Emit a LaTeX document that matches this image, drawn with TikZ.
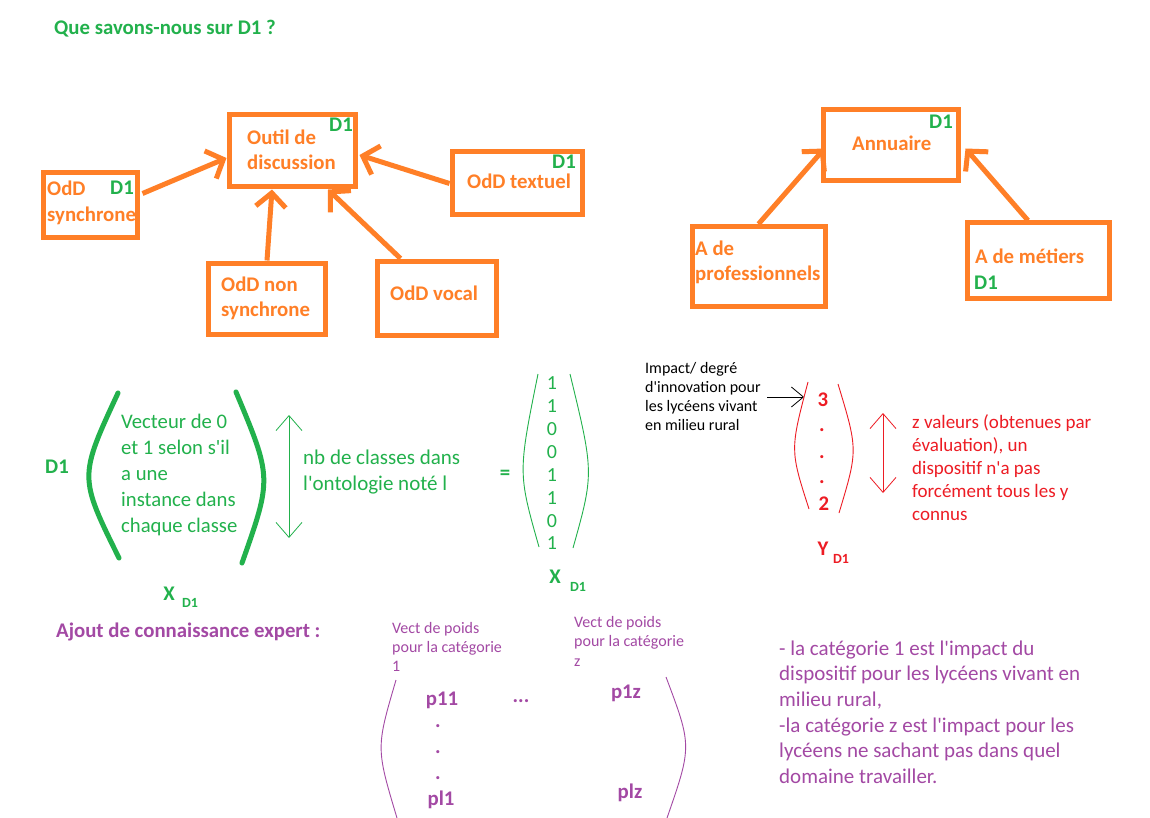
\documentclass[tikz,border=0pt]{standalone}
\usepackage{fontspec}
\setmainfont{Carlito}[Ligatures=TeXOff]
\usetikzlibrary{arrows.meta,calc}
\definecolor{cor}{HTML}{FF7F27}
\definecolor{cgr}{HTML}{22B14C}
\definecolor{cre}{HTML}{ED1C24}
\definecolor{cpu}{HTML}{A349A4}
\newcommand\firstln[1]{\rule{0pt}{#1pt}}
\begin{document}
\begin{tikzpicture}[x=1pt,y=-1pt,
  obox/.style={draw=cor,line width=5pt,inner sep=0pt},
  oarr/.style={draw=cor,line width=5pt,-{Straight Barb[length=14pt,width=30pt]}},
  thinarr/.style={line width=0.8pt,{Straight Barb[length=15pt,width=26pt]}-{Straight Barb[length=15pt,width=26pt]}},
  bt/.style={inner sep=0pt,anchor=base west,font=\bfseries\fontsize{20.8}{25}\selectfont},
  bc/.style={inner sep=0pt,anchor=base,font=\bfseries\fontsize{20.8}{25}\selectfont},
  ml/.style={inner sep=0pt,anchor=north west,align=left},
  sub/.style={inner sep=0pt,font=\bfseries\fontsize{14}{16}\selectfont},
  thinparen/.style={line width=0.9pt}]
\useasboundingbox[fill=white] (0,0) rectangle (1150,818);

% title
\node[bt,text=cgr] (title) at (54,35) {Que savons-nous sur D1 ?};

% ---------- orange boxes ----------
\node[obox,minimum width=126pt,minimum height=72pt] (outil) at (292,151) {};
\node[obox,minimum width=94pt,minimum height=65pt] (syn) at (90,205.5) {};
\node[obox,minimum width=130pt,minimum height=63pt] (textuel) at (517,183.5) {};
\node[obox,minimum width=117pt,minimum height=71pt] (nonsyn) at (267,298.5) {};
\node[obox,minimum width=119pt,minimum height=74pt] (vocal) at (436.5,298) {};
\node[obox,minimum width=135pt,minimum height=71pt] (annu) at (890.5,145.5) {};
\node[obox,minimum width=133pt,minimum height=80pt] (prof) at (758.5,266.5) {};
\node[obox,minimum width=142pt,minimum height=75pt] (metier) at (1038,260.5) {};

\node[ml,text=cor,font=\bfseries\fontsize{20.8}{25.5}\selectfont] (outilt) at (247,129) {\firstln{15}Outil de\\discussion};
\node[bt,text=cgr] (outild) at (329,132) {D1};
\node[ml,text=cor,font=\bfseries\fontsize{20.8}{26}\selectfont] (synt) at (47,180) {\firstln{15}OdD\\synchrone};
\node[bt,text=cgr] (synd) at (110,195) {D1};
\node[bt,text=cgr] (textueld) at (552,169) {D1};
\node[bt,text=cor] (textuelt) at (467,189) {OdD textuel};
\node[ml,text=cor,font=\bfseries\fontsize{20.8}{25.5}\selectfont] (nonsynt) at (221,276) {\firstln{15}OdD non\\synchrone};
\node[bt,text=cor] (vocalt) at (390,300) {OdD vocal};
\node[bt,text=cor] (annut) at (852,151) {Annuaire};
\node[bt,text=cgr] (annud) at (929,129) {D1};
\node[ml,text=cor,font=\bfseries\fontsize{20.8}{25}\selectfont] (proft) at (695,240) {\firstln{15}A de\\professionnels};
\node[bt,text=cor] (metiert) at (975,263) {A de métiers};
\node[bt,text=cgr] (metierd) at (974,289) {D1};

\draw[oarr] ($(syn.east)+(3,-12)$) -- ($(outil.west)+(0,7)$);
\draw[oarr] (nonsyn.north) -- ($(outil.south)+(-20,0)$);
\draw[oarr] ($(vocal.north)+(-36,0)$) -- ($(outil.south)+(36,0)$);
\draw[oarr] (textuel.west) -- ($(outil.east)+(2,4)$);
\draw[oarr] (prof.north) -- ($(annu.west)+(4,3)$);
\draw[oarr] ($(metier.north)+(-10,0)$) -- ($(annu.east)+(5,3)$);

% ---------- green part ----------
\node[bt,text=cgr] (dun) at (45,473) {D1};
\draw[cgr,line width=5pt,line cap=round] (118,393) .. controls (79,477) .. (119,558);
\draw[cgr,line width=5pt,line cap=round] (236,392) .. controls (272,478) .. (242,563);
\node[ml,text=cgr,font=\fontsize{20.7}{26}\selectfont] (vect) at (121,413) {\firstln{15}Vecteur de 0\\et 1 selon s'il\\a une\\instance dans\\chaque classe};
\node[inner sep=0pt,font=\bfseries\fontsize{20.8}{25}\selectfont,text=cgr] (xa) at (169,594) {X};
\node[sub,text=cgr] (xasub) at (190,603) {D1};
\coordinate (ga1) at (289,415);
\coordinate (ga2) at (289,538);
\draw[thinarr,cgr] (ga1) -- (ga2);
\node[ml,text=cgr,font=\fontsize{21}{26}\selectfont] (nbcl) at (303,449) {\firstln{15}nb de classes dans\\l'ontologie noté l};
\node[inner sep=0pt,font=\bfseries\fontsize{20.8}{25}\selectfont,text=cgr] (eq) at (505,475) {=};
\node[inner sep=0pt,anchor=north,align=center,text=cgr,font=\fontsize{20}{22.9}\selectfont] (xvec) at (552,374.4) {\firstln{15}1\\1\\0\\0\\1\\1\\0\\1};
\draw[cgr,thinparen] (538,374) .. controls (518,473) .. (539,547);
\draw[cgr,thinparen] (570,374) .. controls (594,473) .. (573,548);
\node[inner sep=0pt,font=\bfseries\fontsize{20.8}{25}\selectfont,text=cgr] (xb) at (555,577) {X};
\node[sub,text=cgr] (xbsub) at (578,587) {D1};

% ---------- red part ----------
\node[ml,text=black,font=\fontsize{16}{19}\selectfont] (impact) at (645,361) {\firstln{12}Impact/ degré\\d'innovation pour\\les lycéens vivant\\en milieu rural};
\coordinate (ia1) at (767,397);
\coordinate (ia2) at (804,397);
\draw[line width=0.8pt,-{Straight Barb[length=12pt,width=20pt]}] (ia1) -- (ia2);
\draw[cre,thinparen] (808,382) .. controls (790,450) .. (809,509);
\draw[cre,thinparen] (838,384) .. controls (858,450) .. (839,513);
\node[bc,text=cre] (ythree) at (823,406) {3};
\node[bc,text=cre] (ydot1) at (822,431) {.};
\node[bc,text=cre] (ydot2) at (822,458) {.};
\node[bc,text=cre] (ydot3) at (822,483) {.};
\node[bc,text=cre] (ytwo) at (824,510) {2};
\coordinate (ra1) at (883,413);
\coordinate (ra2) at (883,493);
\draw[thinarr,cre] (ra1) -- (ra2);
\node[ml,text=cre,font=\fontsize{19}{23}\selectfont] (zval) at (912,414) {\firstln{14}z valeurs (obtenues par\\évaluation), un\\dispositif n'a pas\\forcément tous les y\\connus};
\node[inner sep=0pt,font=\bfseries\fontsize{20.8}{25}\selectfont,text=cre] (ylab) at (823,549) {Y};
\node[sub,text=cre] (ylabsub) at (841,559) {D1};

% ---------- purple part ----------
\node[bt,text=cpu] (ajout) at (56,637) {Ajout de connaissance expert :};
\node[ml,text=cpu,font=\fontsize{16}{19}\selectfont] (vpa) at (392,621) {\firstln{12}Vect de poids\\pour la catégorie\\1};
\node[ml,text=cpu,font=\fontsize{16}{19.5}\selectfont] (vpz) at (574,615) {\firstln{12}Vect de poids\\pour la catégorie\\z};
\draw[cpu,thinparen] (396,680) .. controls (376,748) .. (397,818);
\draw[cpu,thinparen] (666,677) .. controls (692,746) .. (667,818);
\node[bc,text=cpu] (p11) at (442,705) {p11};
\node[bc,text=cpu] (pd1) at (438,727) {.};
\node[bc,text=cpu] (pd2) at (438,753) {.};
\node[bc,text=cpu] (pd3) at (438,779) {.};
\node[bc,text=cpu] (pl1) at (441,805) {pl1};
\node[bc,text=cpu] (pdots) at (521,702) {...};
\node[bc,text=cpu] (p1z) at (626,698) {p1z};
\node[bc,text=cpu] (plz) at (630,798) {plz};
\node[ml,text=cpu,font=\fontsize{21}{25.6}\selectfont] (expl) at (779,640) {\firstln{15}- la catégorie 1 est l'impact du\\dispositif pour les lycéens vivant en\\milieu rural,\\-la catégorie z est l'impact pour les\\lycéens ne sachant pas dans quel\\domaine travailler.};
\end{tikzpicture}
\end{document}
